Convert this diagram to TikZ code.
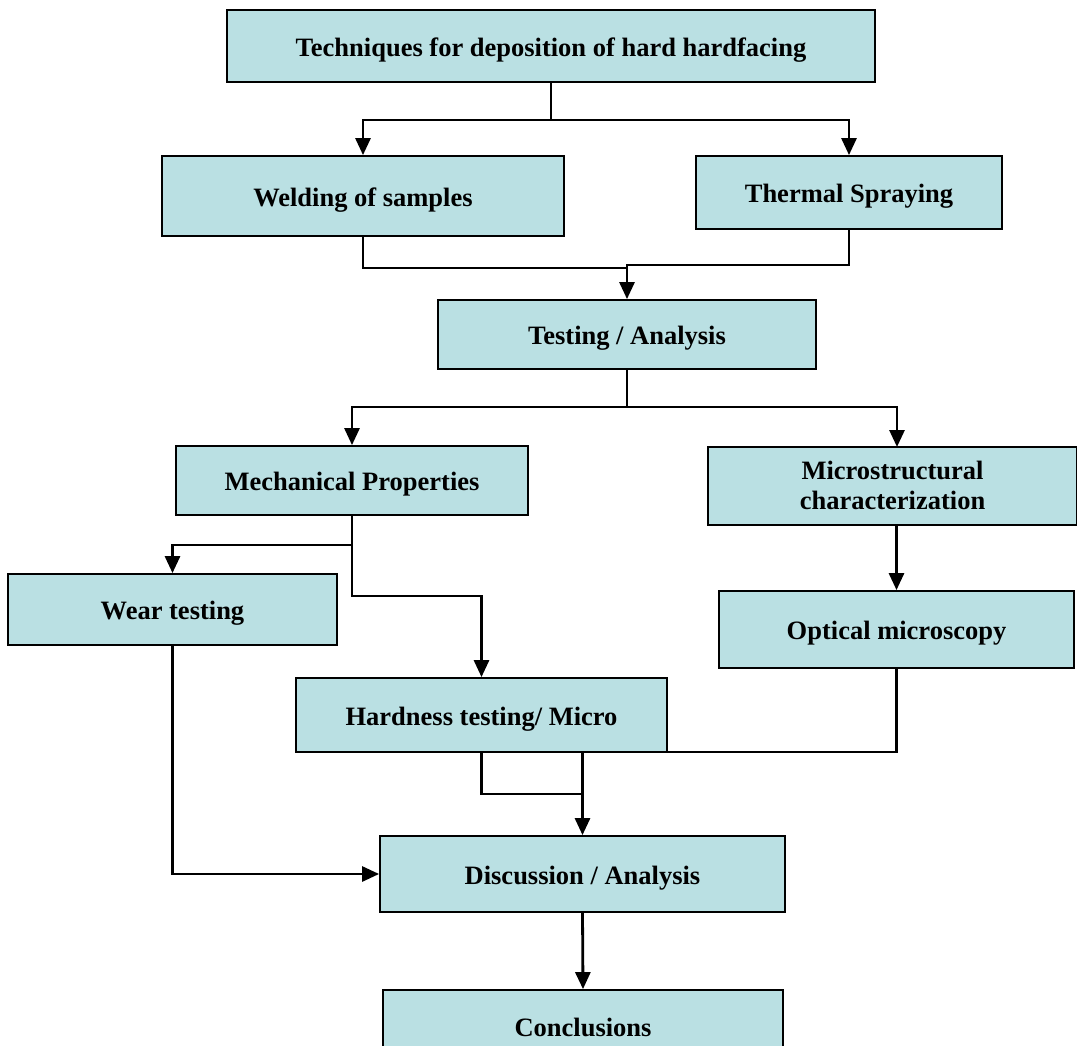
\documentclass[tikz,border=0pt]{standalone}
\usepackage{fontspec}
\setmainfont{Liberation Serif}
\usetikzlibrary{arrows.meta,calc}
\definecolor{boxfill}{RGB}{186,224,227}
\newcommand{\lbl}[1]{\raisebox{-4pt}[\height][\depth]{#1}}
\begin{document}
\begin{tikzpicture}[x=1pt,y=-1pt,
  box/.style={draw=black,line width=1.8pt,fill=boxfill,inner sep=0pt,
    font=\fontsize{26.5}{31}\selectfont\bfseries,align=center},
  conn/.style={line width=2.8pt,line join=miter},
  arr/.style={conn,-{Triangle[width=15pt,length=17pt]}}]
\useasboundingbox (0,0) rectangle (1077,1046);
\clip (0,0) rectangle (1077,1046);
\node[box,minimum width=648pt,minimum height=72pt] (tech) at (551,46) {\lbl{Techniques for deposition of hard hardfacing}};
\node[box,minimum width=402pt,minimum height=80pt] (weld) at (363,196) {\lbl{Welding of samples}};
\node[box,minimum width=306pt,minimum height=73pt] (therm) at (849,192.5) {\lbl{Thermal Spraying}};
\node[box,minimum width=378pt,minimum height=69pt] (test) at (627,334.5) {\lbl{Testing / Analysis}};
\node[box,minimum width=352pt,minimum height=69pt] (mech) at (352,480.5) {\lbl{Mechanical Properties}};
\node[box,minimum width=369pt,minimum height=78pt] (micro) at (892.5,486) {\raisebox{-2pt}[\height][\depth]{\begin{tabular}{@{}c@{}}Microstructural\\[-1pt]characterization\end{tabular}}};
\node[box,minimum width=329pt,minimum height=71pt] (wear) at (172.5,609.5) {\lbl{Wear testing}};
\node[box,minimum width=355pt,minimum height=77pt] (optical) at (896.5,629.5) {\lbl{Optical microscopy}};
\node[box,minimum width=371pt,minimum height=74pt] (hard) at (481.5,715) {\lbl{Hardness testing/ Micro}};
\node[box,minimum width=405pt,minimum height=76pt] (disc) at (582.5,874) {\lbl{Discussion / Analysis}};
\node[box,minimum width=400pt,minimum height=66pt] (concl) at (583,1023) {\lbl{Conclusions}};

\coordinate (j1) at (551,120);
\coordinate (j2) at (627,268);
\coordinate (j3) at (627,265);
\coordinate (j4) at (627,407);
\coordinate (mtop) at (897,447);
\coordinate (j5) at (352,545);
\coordinate (j6) at (352,596);
\coordinate (j7) at (582.5,752);
\coordinate (j8) at (582.5,794);

\draw[conn] (tech.south) -- (j1);
\draw[arr] (j1) -| (weld.north);
\draw[arr] (j1) -| (therm.north);
\draw[conn] (weld.south) |- (j2);
\draw[arr] (therm.south) |- (j3) -- (test.north);
\draw[conn] (test.south) -- (j4);
\draw[arr] (j4) -| (mech.north);
\draw[arr] (j4) -| (mtop);
\draw[arr] (micro.south -| optical.north) -- (optical.north);
\draw[arr] (mech.south) -- (j5) -| (wear.north);
\draw[arr] (j5) -- (j6) -| (hard.north);
\draw[conn] (optical.south) |- (j7);
\draw[conn] (hard.south) |- (j8);
\draw[arr] (j7) -- (disc.north);
\draw[arr] (wear.south) |- (disc.west);
\draw[arr] (disc.south) -- (concl.north);
\end{tikzpicture}
\end{document}
